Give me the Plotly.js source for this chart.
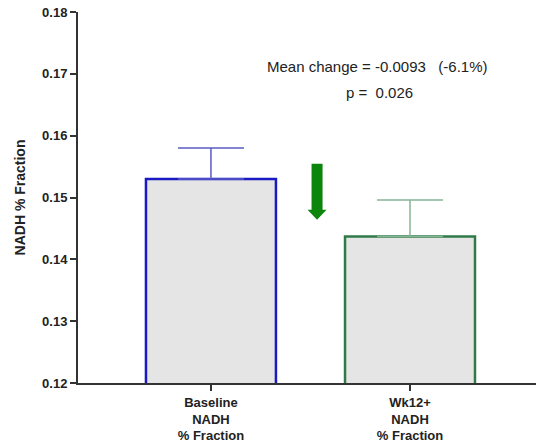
<!DOCTYPE html>
<html>
<head>
<meta charset="utf-8">
<script src="https://cdn.plot.ly/plotly-3.0.1.min.js"></script>
<style>html,body{margin:0;padding:0;background:#fff;}#chart{width:536px;height:447px;}</style>
</head>
<body>
<div id="chart"></div>
<script>
// Data
const categories = ['Baseline<br>NADH<br>% Fraction', 'Wk12+<br>NADH<br>% Fraction'];
const means = [0.1530, 0.1437];
const sems = [0.0050, 0.0059];
const outlineColors = ['#1a1ac4', '#2f7a48'];
const errorColors = ['#5b5bc6', '#86b596'];
const yTickVals = [0.12, 0.13, 0.14, 0.15, 0.16, 0.17, 0.18];
const meanChangeText = 'Mean change = -0.0093\u00a0\u00a0\u00a0(-6.1%)';
const pText = 'p =\u00a0\u00a00.026';

const traces = categories.map((c, i) => ({
  type: 'bar',
  x: [c],
  y: [means[i]],
  width: 0.653,
  marker: {color: '#e5e5e5', line: {color: outlineColors[i], width: 2.5}},
  error_y: {type: 'data', symmetric: false, array: [sems[i]], arrayminus: [0],
            color: errorColors[i], thickness: 1.5, width: 33},
  hoverinfo: 'skip',
  showlegend: false
}));

const layout = {
  width: 536, height: 447, autosize: false,
  margin: {l: 78, r: 0, t: 12, b: 64, pad: 0},
  paper_bgcolor: '#fff', plot_bgcolor: '#fff',
  font: {family: 'Arial, "Liberation Sans", sans-serif', color: '#222'},
  xaxis: {
    type: 'category', range: [-0.668, 1.633],
    showline: true, linecolor: '#333', linewidth: 2,
    ticks: 'outside', ticklen: 6, tickwidth: 2, tickcolor: '#333',
    tickfont: {size: 13, weight: 'bold', color: '#222'},
    showgrid: false, zeroline: false, fixedrange: true
  },
  yaxis: {
    range: [0.12, 0.18], tickvals: yTickVals, tickformat: '.2f',
    showline: true, linecolor: '#333', linewidth: 2,
    ticks: 'outside', ticklen: 6, tickwidth: 2, tickcolor: '#333',
    tickfont: {size: 13, weight: 'bold', color: '#222'},
    showgrid: false, zeroline: false,
    title: {text: 'NADH % Fraction', font: {size: 14, weight: 'bold', color: '#222'}, standoff: 13}
  },
  annotations: [
    {xref: 'paper', yref: 'paper', x: 0.654, y: 0.852, text: meanChangeText, showarrow: false,
     font: {size: 15, color: '#222'}, xanchor: 'center', yanchor: 'middle'},
    {xref: 'paper', yref: 'paper', x: 0.659, y: 0.782, text: pText, showarrow: false,
     font: {size: 15, color: '#222'}, xanchor: 'center', yanchor: 'middle'}
  ],
  shapes: [
    {type: 'path', xref: 'x', yref: 'y', xsizemode: 'pixel', ysizemode: 'pixel',
     xanchor: 0.533, yanchor: 0.1464,
     path: 'M-5.5,56 L5.5,56 L5.5,10 L9.5,10 L0,0 L-9.5,10 L-5.5,10 Z',
     fillcolor: '#0b850b', line: {width: 0}}
  ]
};

Plotly.newPlot('chart', traces, layout, {displayModeBar: false, staticPlot: true});
</script>
</body>
</html>
